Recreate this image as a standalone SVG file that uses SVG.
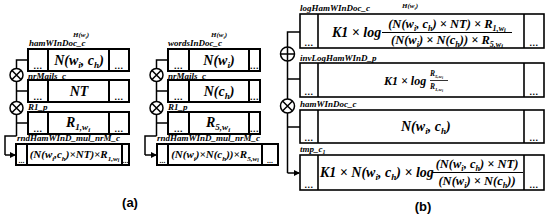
<svg xmlns="http://www.w3.org/2000/svg" width="550" height="216" viewBox="0 0 550 216">
<defs>
<style>
.box{fill:#fff;stroke:#000;stroke-width:2}
.bb{fill:#fff;stroke:#000;stroke-width:1.6}
.cell{stroke:#000;stroke-width:2}
.cb{stroke:#000;stroke-width:1.6}
.ln{fill:none;stroke:#000;stroke-width:1.5}
.op{fill:#fff;stroke:#000;stroke-width:1.5}
.lbl{font-family:"Liberation Serif",serif;font-weight:bold;font-style:italic;font-size:9px;fill:#000}
.h{font-family:"Liberation Serif",serif;font-weight:bold;font-style:italic;font-size:7px;fill:#000}
.m{font-family:"Liberation Serif",serif;font-weight:bold;font-style:italic;font-size:14px;fill:#000}
.m2{font-family:"Liberation Serif",serif;font-weight:bold;font-style:italic;font-size:11px;fill:#000}
.m3{font-family:"Liberation Serif",serif;font-weight:bold;font-style:italic;font-size:12.5px;fill:#000}
.m4{font-family:"Liberation Serif",serif;font-weight:bold;font-style:italic;font-size:7.5px;fill:#000}
.s{font-size:0.65em}
.ss{font-size:0.5em}
.dots{font-family:"Liberation Sans",sans-serif;font-weight:bold;font-size:9px;letter-spacing:0.5px;fill:#000;text-anchor:middle}
.cap{font-family:"Liberation Sans",sans-serif;font-weight:bold;font-size:13px;fill:#000;text-anchor:middle}
</style>
<marker id="arr" markerWidth="6" markerHeight="6" refX="5" refY="3" orient="auto" markerUnits="userSpaceOnUse">
<path d="M0,0 L6,3 L0,6 Z" fill="#000"/>
</marker>
</defs>
<rect width="550" height="216" fill="#fff"/>

<g id="connectors">
<path class="ln" d="M28,60 H16.5 V68.5 M16.5,81.5 V101.5 M16.5,91 H28 M16.5,114.5 V136 M16.5,123 H28 M16.5,136 H5 V155" />
<path class="ln" d="M5,155 H15" marker-end="url(#arr)"/>
<path class="ln" d="M168,60 H156.5 V68.5 M156.5,81.5 V101.5 M156.5,91 H168 M156.5,114.5 V136 M156.5,123 H168 M156.5,136 H145 V155" />
<path class="ln" d="M145,155 H156" marker-end="url(#arr)"/>
<path class="ln" d="M300,32 H287.5 V47 M287.5,61 V99 M287.5,79 H300 M287.5,113 V173 M287.5,127 H300" />
<path class="ln" d="M287.5,173 H299" marker-end="url(#arr)"/>
</g>

<g id="op-a1-1"><circle class="op" cx="16.5" cy="75" r="6.5"/><path class="ln" d="M12,70.5 L21,79.5 M21,70.5 L12,79.5"/></g>
<g id="op-a1-2"><circle class="op" cx="16.5" cy="108" r="6.5"/><path class="ln" d="M12,103.5 L21,112.5 M21,103.5 L12,112.5"/></g>
<g id="op-a2-1"><circle class="op" cx="156.5" cy="75" r="6.5"/><path class="ln" d="M152,70.5 L161,79.5 M161,70.5 L152,79.5"/></g>
<g id="op-a2-2"><circle class="op" cx="156.5" cy="108" r="6.5"/><path class="ln" d="M152,103.5 L161,112.5 M161,103.5 L152,112.5"/></g>
<g id="op-b-plus"><circle class="op" cx="287.5" cy="54" r="7"/><path class="ln" d="M281,54 H294 M287.5,47.5 V60.5"/></g>
<g id="op-b-mul"><circle class="op" cx="287.5" cy="106" r="7"/><path class="ln" d="M282.5,101 L292.5,111 M292.5,101 L282.5,111"/></g>

<g id="a1-box1">
<text class="h" x="73" y="37">H(w<tspan class="s" dy="1.5">i</tspan><tspan dy="-1.5">)</tspan></text>
<text class="lbl" x="29" y="46">hamWInDoc_c</text>
<rect class="box" x="28" y="49" width="101" height="22"/>
<line class="cell" x1="48" y1="49" x2="48" y2="71"/><line class="cell" x1="109" y1="49" x2="109" y2="71"/>
<text class="dots" x="38" y="69">...</text><text class="dots" x="119" y="69">...</text>
<text class="m" x="79" y="65" text-anchor="middle">N(w<tspan class="s" dy="3">i</tspan><tspan dy="-3">, c</tspan><tspan class="s" dy="3">h</tspan><tspan dy="-3">)</tspan></text>
</g>
<g id="a1-box2">
<text class="lbl" x="28" y="79">nrMails_c</text>
<rect class="box" x="28" y="80" width="101" height="22"/>
<line class="cell" x1="48" y1="80" x2="48" y2="102"/><line class="cell" x1="109" y1="80" x2="109" y2="102"/>
<text class="dots" x="38" y="100">...</text><text class="dots" x="119" y="100">...</text>
<text class="m" x="79" y="96" text-anchor="middle">NT</text>
</g>
<g id="a1-box3">
<text class="lbl" x="28" y="110">R1_p</text>
<rect class="box" x="28" y="112" width="101" height="22"/>
<line class="cell" x1="48" y1="112" x2="48" y2="134"/><line class="cell" x1="109" y1="112" x2="109" y2="134"/>
<text class="dots" x="38" y="132">...</text><text class="dots" x="119" y="132">...</text>
<text class="m" x="78" y="127" text-anchor="middle">R<tspan class="s" dy="3">1,w</tspan><tspan class="ss" dy="2">i</tspan></text>
</g>
<g id="a1-box4">
<text class="lbl" x="17" y="141">rndHamWInD_mul_nrM_c</text>
<rect class="box" x="16" y="144" width="113" height="21"/>
<line class="cell" x1="27" y1="144" x2="27" y2="165"/><line class="cell" x1="122" y1="144" x2="122" y2="165"/>
<text class="dots" x="21.5" y="163" style="font-size:7px;letter-spacing:0">...</text><text class="dots" x="125.5" y="163" style="font-size:7px;letter-spacing:0">...</text>
<text class="m2" x="74.5" y="158" text-anchor="middle">(N(w<tspan class="s" dy="2.5">i</tspan><tspan dy="-2.5">,c</tspan><tspan class="s" dy="2.5">h</tspan><tspan dy="-2.5">)×NT)×R</tspan><tspan class="s" dy="2.5">1,w</tspan><tspan class="ss" dy="1.5">i</tspan></text>
</g>

<g id="a2-box1">
<text class="h" x="211" y="37">H(w<tspan class="s" dy="1.5">i</tspan><tspan dy="-1.5">)</tspan></text>
<text class="lbl" x="168" y="46">wordsInDoc_c</text>
<rect class="box" x="168" y="49" width="92" height="22"/>
<line class="cell" x1="189" y1="49" x2="189" y2="71"/><line class="cell" x1="249" y1="49" x2="249" y2="71"/>
<text class="dots" x="178.5" y="69">...</text><text class="dots" x="254.5" y="69">...</text>
<text class="m" x="219" y="65" text-anchor="middle">N(w<tspan class="s" dy="3">i</tspan><tspan dy="-3">)</tspan></text>
</g>
<g id="a2-box2">
<text class="lbl" x="168" y="79">nrMails_c</text>
<rect class="box" x="168" y="80" width="92" height="22"/>
<line class="cell" x1="189" y1="80" x2="189" y2="102"/><line class="cell" x1="249" y1="80" x2="249" y2="102"/>
<text class="dots" x="178.5" y="100">...</text><text class="dots" x="254.5" y="100">...</text>
<text class="m" x="219" y="96" text-anchor="middle">N(c<tspan class="s" dy="3">h</tspan><tspan dy="-3">)</tspan></text>
</g>
<g id="a2-box3">
<text class="lbl" x="168" y="110">R1_p</text>
<rect class="box" x="168" y="112" width="92" height="22"/>
<line class="cell" x1="189" y1="112" x2="189" y2="134"/><line class="cell" x1="249" y1="112" x2="249" y2="134"/>
<text class="dots" x="178.5" y="132">...</text><text class="dots" x="254.5" y="132">...</text>
<text class="m" x="218" y="127" text-anchor="middle">R<tspan class="s" dy="3">5,w</tspan><tspan class="ss" dy="2">i</tspan></text>
</g>
<g id="a2-box4">
<text class="lbl" x="157" y="141">rndHamWInD_mul_nrM_c</text>
<rect class="box" x="157" y="144" width="121" height="21"/>
<line class="cell" x1="168" y1="144" x2="168" y2="165"/><line class="cell" x1="262" y1="144" x2="262" y2="165"/>
<text class="dots" x="162.5" y="163" style="font-size:7px;letter-spacing:0">...</text><text class="dots" x="270" y="163" style="font-size:7px;letter-spacing:0">...</text>
<text class="m2" x="215" y="158" text-anchor="middle">(N(w<tspan class="s" dy="2.5">i</tspan><tspan dy="-2.5">)×N(c</tspan><tspan class="s" dy="2.5">h</tspan><tspan dy="-2.5">))×R</tspan><tspan class="s" dy="2.5">5,w</tspan><tspan class="ss" dy="1.5">i</tspan></text>
</g>
<text class="cap" x="130" y="207">(a)</text>

<g id="b-box1">
<text class="lbl" x="300" y="11">logHamWInDoc_c</text>
<text class="h" x="402" y="8">H(w<tspan class="s" dy="1.5">i</tspan><tspan dy="-1.5">)</tspan></text>
<rect class="bb" x="300" y="14" width="244" height="34"/>
<line class="cb" x1="318" y1="14" x2="318" y2="48"/><line class="cb" x1="524" y1="14" x2="524" y2="48"/>
<text class="dots" x="309" y="46">...</text><text class="dots" x="534" y="46">...</text>
<text class="m" x="332" y="37">K1 × log</text>
<text class="m3" x="447" y="28" text-anchor="middle">(N(w<tspan class="s" dy="2.5">i</tspan><tspan dy="-2.5">, c</tspan><tspan class="s" dy="2.5">h</tspan><tspan dy="-2.5">) × NT) × R</tspan><tspan class="s" dy="2.5">1,w</tspan><tspan class="ss" dy="1.5">i</tspan></text>
<line x1="382" y1="32.5" x2="512" y2="32.5" stroke="#000" stroke-width="1"/>
<text class="m3" x="447" y="44" text-anchor="middle">(N(w<tspan class="s" dy="2.5">i</tspan><tspan dy="-2.5">) × N(c</tspan><tspan class="s" dy="2.5">h</tspan><tspan dy="-2.5">)) × R</tspan><tspan class="s" dy="2.5">5,w</tspan><tspan class="ss" dy="1.5">i</tspan></text>
</g>
<g id="b-box2">
<text class="lbl" x="300" y="61">invLogHamWInD_p</text>
<rect class="bb" x="300" y="63" width="244" height="34"/>
<line class="cb" x1="318" y1="63" x2="318" y2="97"/><line class="cb" x1="524" y1="63" x2="524" y2="97"/>
<text class="dots" x="309" y="95">...</text><text class="dots" x="534" y="95">...</text>
<text class="m" x="384" y="85" style="font-size:12px">K1 × log</text>
<text class="m4" x="430" y="76">R<tspan class="s" dy="2">5,w</tspan><tspan class="ss" dy="1">i</tspan></text>
<line x1="430" y1="80.5" x2="448" y2="80.5" stroke="#000" stroke-width="0.8"/>
<text class="m4" x="430" y="89">R<tspan class="s" dy="2">1,w</tspan><tspan class="ss" dy="1">i</tspan></text>
</g>
<g id="b-box3">
<text class="lbl" x="300" y="107">hamWInDoc_c</text>
<rect class="bb" x="300" y="110" width="244" height="33"/>
<line class="cb" x1="318" y1="110" x2="318" y2="143"/><line class="cb" x1="524" y1="110" x2="524" y2="143"/>
<text class="dots" x="309" y="141">...</text><text class="dots" x="534" y="141">...</text>
<text class="m" x="401" y="131">N(w<tspan class="s" dy="3">i</tspan><tspan dy="-3">, c</tspan><tspan class="s" dy="3">h</tspan><tspan dy="-3">)</tspan></text>
</g>
<g id="b-box4">
<text class="lbl" x="300" y="152">tmp_c<tspan class="s" dy="2">1</tspan></text>
<rect class="bb" x="300" y="155" width="244" height="35"/>
<line class="cb" x1="318" y1="155" x2="318" y2="190"/><line class="cb" x1="524" y1="155" x2="524" y2="190"/>
<text class="dots" x="309" y="188">...</text><text class="dots" x="534" y="188">...</text>
<text class="m" x="320" y="177">K1 × N(w<tspan class="s" dy="3">i</tspan><tspan dy="-3">, c</tspan><tspan class="s" dy="3">h</tspan><tspan dy="-3">) × log</tspan></text>
<text class="m3" x="477" y="168" text-anchor="middle">(N(w<tspan class="s" dy="2.5">i</tspan><tspan dy="-2.5">, c</tspan><tspan class="s" dy="2.5">h</tspan><tspan dy="-2.5">) × NT)</tspan></text>
<line x1="432" y1="172.5" x2="523" y2="172.5" stroke="#000" stroke-width="1"/>
<text class="m3" x="477" y="185" text-anchor="middle">(N(w<tspan class="s" dy="2.5">i</tspan><tspan dy="-2.5">) × N(c</tspan><tspan class="s" dy="2.5">h</tspan><tspan dy="-2.5">))</tspan></text>
</g>
<text class="cap" x="423" y="211">(b)</text>
</svg>
